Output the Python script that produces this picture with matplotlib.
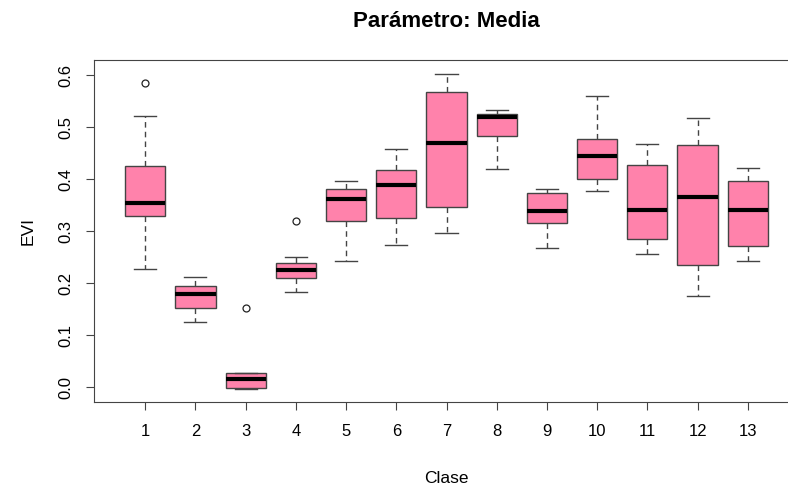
import matplotlib.pyplot as plt
import numpy as np

plt.rcParams['font.family'] = ['Liberation Sans', 'DejaVu Sans']

# resumen de cinco numeros por clase (EVI, parametro media)
clases = [str(i) for i in range(1, 14)]
bigote_inf = [0.227, 0.125, -0.003, 0.184, 0.242, 0.274, 0.296, 0.420, 0.268, 0.377, 0.257, 0.176, 0.243]
q1 = [0.3285, 0.153, -0.001, 0.210, 0.319, 0.325, 0.347, 0.483, 0.315, 0.400, 0.285, 0.236, 0.272]
mediana = [0.3535, 0.1787, 0.016, 0.2254, 0.3618, 0.389, 0.469, 0.520, 0.338, 0.445, 0.3406, 0.366, 0.3406]
q3 = [0.426, 0.195, 0.027, 0.238, 0.381, 0.4175, 0.567, 0.526, 0.3727, 0.477, 0.428, 0.466, 0.396]
bigote_sup = [0.522, 0.212, 0.027, 0.251, 0.396, 0.458, 0.603, 0.533, 0.3816, 0.560, 0.468, 0.518, 0.422]
atipicos = [[0.584], [], [0.152], [0.319], [], [], [], [], [], [], [], [], []]

stats = []
for i in range(len(clases)):
    stats.append(dict(whislo=bigote_inf[i], q1=q1[i], med=mediana[i], q3=q3[i],
                      whishi=bigote_sup[i], fliers=atipicos[i], label=clases[i]))

fig = plt.figure(figsize=(7.88, 4.87), dpi=100)
ax = fig.add_axes([94/788, 85/487, 705/788, 342/487])

borde = '#444444'
ax.bxp(stats, positions=np.arange(1, 14), widths=0.8, capwidths=0.44,
       patch_artist=True, showfliers=True,
       boxprops=dict(facecolor='#FF82AB', edgecolor=borde, linewidth=1),
       medianprops=dict(color='black', linewidth=3, solid_capstyle='butt'),
       whiskerprops=dict(color=borde, linewidth=1, linestyle=(0, (4, 3))),
       capprops=dict(color=borde, linewidth=1),
       flierprops=dict(marker='o', markersize=5, markerfacecolor='none',
                       markeredgecolor='#222222', markeredgewidth=0.9))

ax.set_xlim(-0.02, 14.02)
ax.set_ylim(-0.0282, 0.629)
ax.set_yticks(np.arange(0, 0.61, 0.1))
ax.set_yticklabels(['%.1f' % v for v in np.arange(0, 0.61, 0.1)], rotation=90, va='center')
ax.set_xticks(np.arange(1, 14))
ax.set_xticklabels(clases)
ax.tick_params(labelsize=12, length=6, color=borde)
ax.tick_params(axis='x', pad=10)
ax.tick_params(axis='y', pad=8.5)

for s in ax.spines.values():
    s.set_color(borde)

ax.set_title('Parámetro: Media', fontsize=16, fontweight='bold', pad=24)
ax.set_xlabel('Clase', fontsize=12.5, labelpad=23)
ax.set_ylabel('EVI', fontsize=12.5, labelpad=17)

fig.savefig('out.png', dpi=100)
